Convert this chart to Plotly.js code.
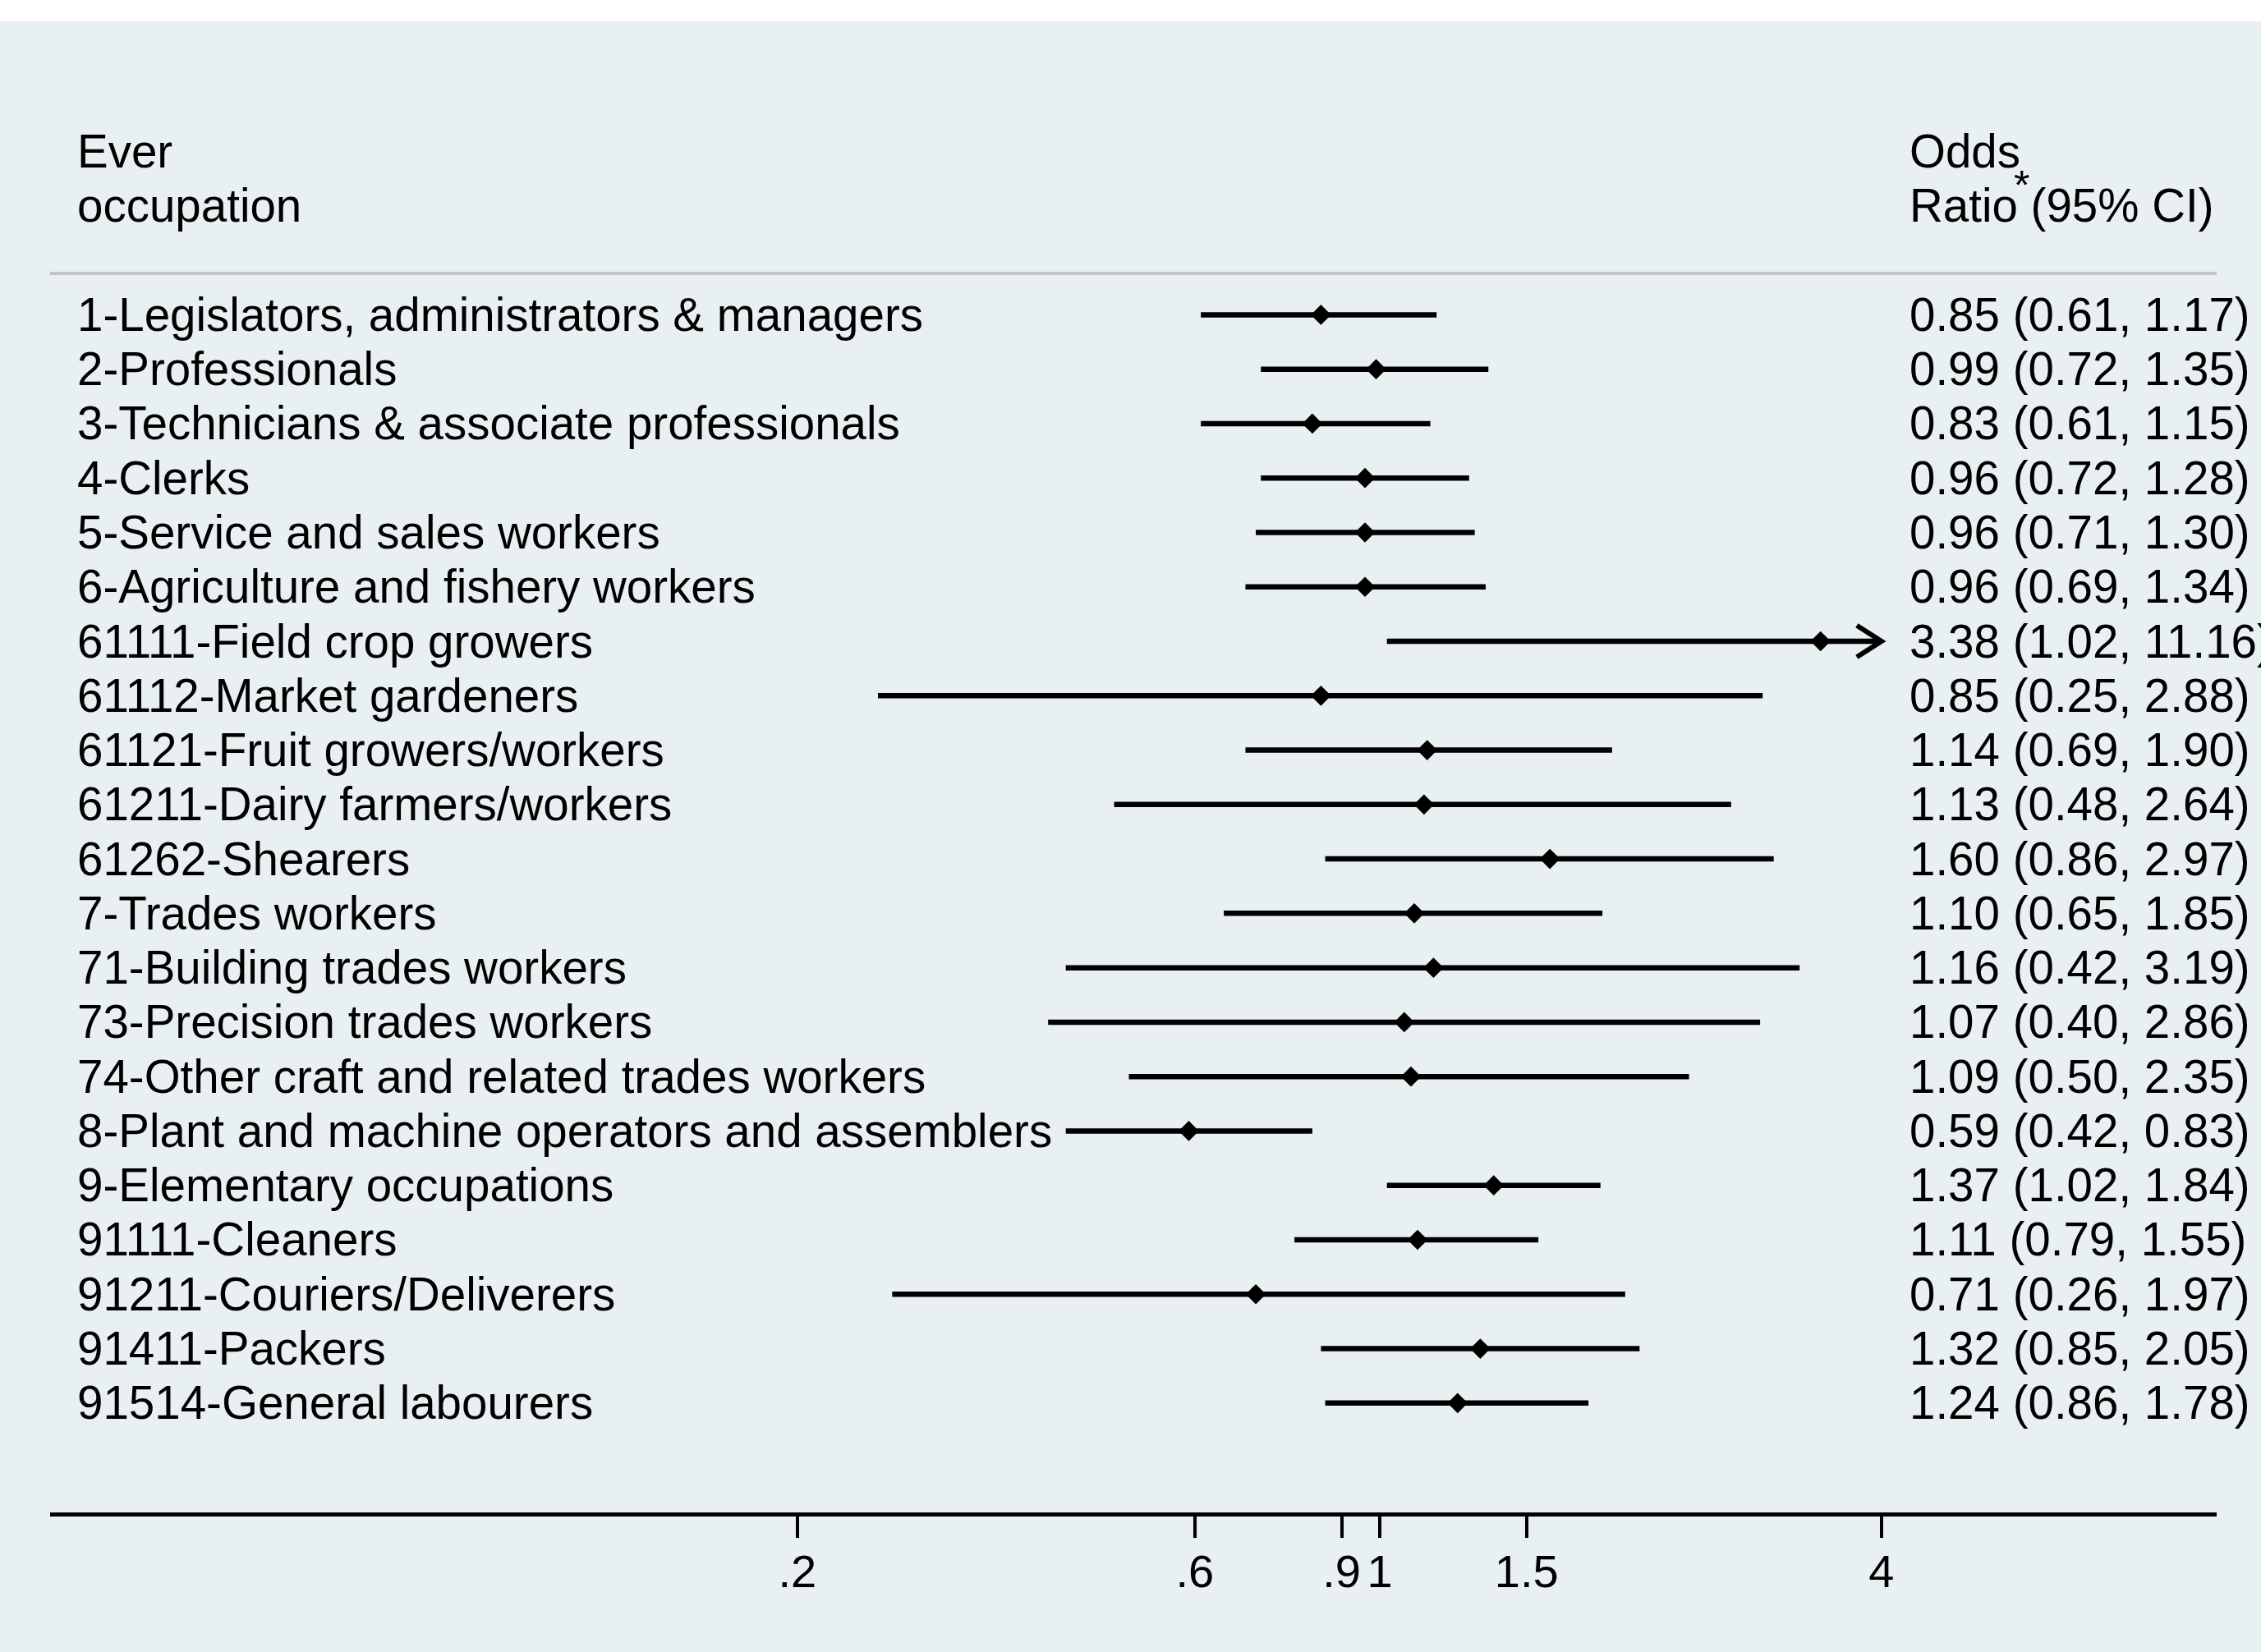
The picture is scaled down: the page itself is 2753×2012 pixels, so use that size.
<!DOCTYPE html>
<html>
<head>
<meta charset="utf-8">
<script src="https://cdn.plot.ly/plotly-3.0.1.min.js"></script>
<style>
  html, body { margin: 0; padding: 0; background: #ffffff; }
  #chart { width: 2753px; height: 2012px; }
</style>
</head>
<body>
<div id="chart"></div>
<script>
// ---- data ----
const occupations = [
  "1-Legislators, administrators & managers",
  "2-Professionals",
  "3-Technicians & associate professionals",
  "4-Clerks",
  "5-Service and sales workers",
  "6-Agriculture and fishery workers",
  "61111-Field crop growers",
  "61112-Market gardeners",
  "61121-Fruit growers/workers",
  "61211-Dairy farmers/workers",
  "61262-Shearers",
  "7-Trades workers",
  "71-Building trades workers",
  "73-Precision trades workers",
  "74-Other craft and related trades workers",
  "8-Plant and machine operators and assemblers",
  "9-Elementary occupations",
  "91111-Cleaners",
  "91211-Couriers/Deliverers",
  "91411-Packers",
  "91514-General labourers"
];
const oddsRatio = [0.85, 0.99, 0.83, 0.96, 0.96, 0.96, 3.38, 0.85, 1.14, 1.13, 1.60, 1.10, 1.16, 1.07, 1.09, 0.59, 1.37, 1.11, 0.71, 1.32, 1.24];
const ciLower   = [0.61, 0.72, 0.61, 0.72, 0.71, 0.69, 1.02, 0.25, 0.69, 0.48, 0.86, 0.65, 0.42, 0.40, 0.50, 0.42, 1.02, 0.79, 0.26, 0.85, 0.86];
const ciUpper   = [1.17, 1.35, 1.15, 1.28, 1.30, 1.34, 11.16, 2.88, 1.90, 2.64, 2.97, 1.85, 3.19, 2.86, 2.35, 0.83, 1.84, 1.55, 1.97, 2.05, 1.78];
const tickValues = [0.2, 0.6, 0.9, 1, 1.5, 4];
const tickLabels = [".2", ".6", ".9", "1", "1.5", "4"];
const headerLeft = ["Ever", "occupation"];
const headerRight = ["Odds", "Ratio (95% CI)"];
const headerMark = "*";
const nullValue = 1;

// ---- derived ----
const xCap = Math.max(...tickValues);          // CIs beyond the last tick are truncated with an arrow
const rows = occupations.map((_, i) => i + 1);
const plusErr = oddsRatio.map((v, i) => Math.min(ciUpper[i], xCap) - v);
const minusErr = oddsRatio.map((v, i) => v - ciLower[i]);
const ciText = oddsRatio.map((v, i) => `${v.toFixed(2)} (${ciLower[i].toFixed(2)}, ${ciUpper[i].toFixed(2)})`);

const BG = "#E8F0F2";
const FONT = "Liberation Sans, Arial, Helvetica, sans-serif";
const FS = 56.5;

const yBottom = 23.01, yTop = -4.393, yHeaderLine = 0.238;
const leftX = 0.0117, rightX = 0.8575;
// arrow head styling (relative size on the log axis / in row units)
const headBack = 0.934, headHalf = 0.29;

const trace = {
  type: "scatter",
  mode: "markers",
  x: oddsRatio,
  y: rows,
  marker: { symbol: "diamond", size: 19, color: "#000000", line: { width: 0 } },
  error_x: {
    type: "data", symmetric: false,
    array: plusErr, arrayminus: minusErr,
    thickness: 6.5, width: 0, color: "#000000"
  },
  hoverinfo: "skip"
};

const traces = [trace];
oddsRatio.forEach((v, i) => {
  if (ciUpper[i] > xCap) {
    traces.push({
      type: "scatter", mode: "lines",
      x: [xCap * headBack, xCap, xCap * headBack],
      y: [rows[i] - headHalf, rows[i], rows[i] + headHalf],
      line: { color: "#000000", width: 6 },
      hoverinfo: "skip"
    });
  }
});

const txtFont = { family: FONT, size: FS, color: "#000" };
const annotations = [];
occupations.forEach((lab, i) => {
  annotations.push({ xref: "paper", yref: "y", x: leftX, y: rows[i], text: lab,
    showarrow: false, xanchor: "left", yanchor: "middle", font: txtFont });
  annotations.push({ xref: "paper", yref: "y", x: rightX, y: rows[i], text: ciText[i],
    showarrow: false, xanchor: "left", yanchor: "middle", font: txtFont });
});
headerLeft.forEach((t, k) => annotations.push({ xref: "paper", yref: "y", x: leftX, y: -2 + k, text: t,
  showarrow: false, xanchor: "left", yanchor: "middle", font: txtFont }));
headerRight.forEach((t, k) => annotations.push({ xref: "paper", yref: "y", x: rightX, y: -2 + k, text: t,
  showarrow: false, xanchor: "left", yanchor: "middle", font: txtFont }));
annotations.push({ xref: "paper", yref: "y", x: 0.9098, y: -1.38, text: headerMark,
  showarrow: false, xanchor: "center", yanchor: "middle", font: { family: FONT, size: 50, color: "#000" } });

const shapes = [
  { type: "line", xref: "paper", yref: "y", x0: 0, x1: 1, y0: yHeaderLine, y1: yHeaderLine,
    line: { color: "#C4C4C4", width: 4 }, layer: "below" },
  { type: "line", xref: "x", yref: "y", x0: Math.log10(nullValue), x1: Math.log10(nullValue), y0: yHeaderLine, y1: yBottom,
    line: { color: "#000000", width: 5 }, layer: "below" },
  { type: "rect", xref: "paper", yref: "paper", x0: -0.05, x1: 1.05, y0: 1, y1: 1.05,
    fillcolor: "#ffffff", line: { width: 0 }, layer: "above" }
];

const layout = {
  width: 2753, height: 2012,
  margin: { l: 61, r: 54, t: 26, b: 170, pad: 0 },
  paper_bgcolor: BG, plot_bgcolor: BG,
  showlegend: false,
  font: { family: FONT, size: FS, color: "#000" },
  xaxis: {
    type: "log",
    range: [-1.5955, 1.0042],
    tickvals: tickValues, ticktext: tickLabels, tickangle: 0,
    ticks: "outside", ticklen: 26, tickwidth: 4, tickcolor: "#000",
    ticklabelstandoff: -7,
    showline: true, linewidth: 5, linecolor: "#000",
    showgrid: false, zeroline: false,
    tickfont: { family: FONT, size: 56, color: "#000" }
  },
  yaxis: {
    range: [yBottom, yTop],
    showticklabels: false, showgrid: false, zeroline: false, showline: false, ticks: ""
  },
  shapes: shapes,
  annotations: annotations
};

Plotly.newPlot("chart", traces, layout, { displayModeBar: false, staticPlot: true });
</script>
</body>
</html>
